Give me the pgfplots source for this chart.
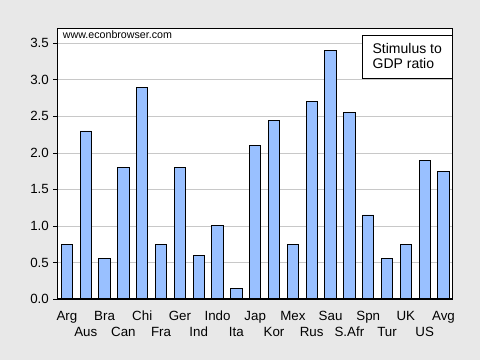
\documentclass[border=0pt]{standalone}
\usepackage{fontspec}
\setmainfont{Liberation Sans}
\usepackage{pgfplots}
\pgfplotsset{compat=1.18}
\definecolor{bgray}{RGB}{232,232,232}
\definecolor{barblue}{RGB}{153,192,255}
\definecolor{gridgray}{RGB}{200,200,200}
\begin{document}
\begin{tikzpicture}
\fill[bgray] (0,0) rectangle (360pt,270pt);
\begin{axis}[
  at={(43.125pt,45.75pt)}, anchor=south west,
  scale only axis, width=296.6pt, height=202.7pt,
  xmin=-0.5, xmax=20.5, ymin=0, ymax=3.7,
  clip=false,
  axis background/.style={fill=white},
  axis line style={draw=none},
  ybar, bar width=0.6,
  xtick={0,2,...,20},
  xticklabels={Arg,Bra,Chi,Ger,Indo,Jap,Mex,Sau,Spn,UK,Avg},
  extra x ticks={1,3,...,19},
  extra x tick labels={Aus,Can,Fra,Ind,Ita,Kor,Rus,S.Afr,Tur,US},
  extra x tick style={major tick length=0pt, tick style={draw=none}, xticklabel style={yshift=-15pt}},
  x tick style={draw=none},
  xticklabel style={font=\fontsize{10}{12}\selectfont, yshift=-2.5pt},
  ytick={0.5,1,...,3.5},
  extra y ticks={0}, extra y tick style={grid=none},
  ytick pos=left, tick align=outside, major tick length=3pt,
  y tick style={black, line width=0.6pt},
  yticklabel style={font=\fontsize{10}{12}\selectfont, /pgf/number format/.cd, fixed, fixed zerofill, precision=1},
  /pgf/number format/assume math mode=true,
  ymajorgrids, grid style={gridgray, line width=0.6pt},
  legend image code/.code={},
  legend style={at={(1,0.977)}, anchor=north east, draw=black, line width=0.6pt, fill=white,
    font=\fontsize{10.5}{11.5}\selectfont, cells={align=left}, inner xsep=6pt, inner ysep=4pt},
]
\addplot[fill=barblue, draw=black, line width=0.7pt] coordinates {
  (0,0.75) (1,2.30) (2,0.55) (3,1.80) (4,2.90) (5,0.75) (6,1.80) (7,0.60)
  (8,1.00) (9,0.15) (10,2.10) (11,2.45) (12,0.75) (13,2.70) (14,3.40)
  (15,2.55) (16,1.15) (17,0.55) (18,0.75) (19,1.90) (20,1.75)
};
\addlegendentry{Stimulus to\\GDP ratio}
\draw[black, line width=0.8pt] (rel axis cs:0,0) rectangle (rel axis cs:1,1);
\node[anchor=base west, font=\fontsize{8}{9}\selectfont, inner sep=0pt] at (rel axis cs:0.013,0.962) {www.econbrowser.com};
\end{axis}
\end{tikzpicture}
\end{document}
